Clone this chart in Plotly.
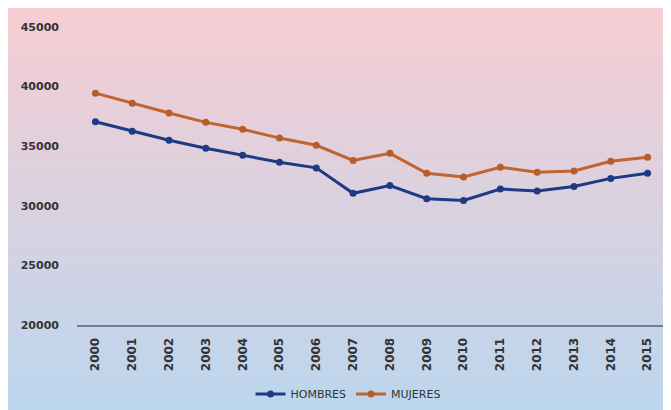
import plotly.graph_objects as go

years = [str(y) for y in range(2000, 2016)]
hombres = [37050, 36250, 35500, 34830, 34250, 33650, 33180, 31050, 31700, 30600, 30450, 31400, 31250, 31620, 32300, 32730]
mujeres = [39450, 38600, 37780, 37000, 36420, 35680, 35080, 33800, 34400, 32730, 32420, 33230, 32820, 32920, 33740, 34080]
y_ticks = [20000, 25000, 30000, 35000, 40000, 45000]
y_labels = ["20000", "25000", "30000", "35000", "40000", "45000"]

W, H = 671, 410
L, R, T, B = 69, 13, 19, 93
pw, ph = W - L - R, H - T - B

def px2paper_x(px):
    return (px - L) / pw

def px2paper_y(py):
    return (H - B - py) / ph

top_c = (246, 205, 210)
bot_c = (188, 214, 238)
shapes = []
n = 60
y_top, y_bot = 0, 402
for i in range(n):
    a = y_top + (y_bot - y_top) * i / n
    b = y_top + (y_bot - y_top) * (i + 1) / n
    t = (i + 0.5) / n
    c = tuple(round(top_c[k] + (bot_c[k] - top_c[k]) * t) for k in range(3))
    if i == n - 1:
        b = H + 5
    shapes.append(dict(type="rect", xref="paper", yref="paper",
                       x0=px2paper_x(-5), x1=px2paper_x(W + 5),
                       y0=px2paper_y(b + 2), y1=px2paper_y(a - (5 if i == 0 else 0)),
                       fillcolor="rgb(%d,%d,%d)" % c, line=dict(width=0), layer="below"))

fig = go.Figure()
fig.add_trace(go.Scatter(x=years, y=hombres, name="HOMBRES", mode="lines+markers",
                         line=dict(color="#1f3a84", width=3),
                         marker=dict(size=7, color="#1f3a84")))
fig.add_trace(go.Scatter(x=years, y=mujeres, name="MUJERES", mode="lines+markers",
                         line=dict(color="#c0652f", width=3),
                         marker=dict(size=7, color="#b55e2c")))

fig.update_layout(
    width=W, height=H,
    margin=dict(l=L, r=R, t=T, b=B, autoexpand=False),
    paper_bgcolor=f"rgb{bot_c}",
    plot_bgcolor="rgba(0,0,0,0)",
    shapes=shapes,
    font=dict(family="DejaVu Sans", color="#333333"),
    showlegend=True,
    legend=dict(orientation="h", x=px2paper_x(340), xanchor="center",
                y=px2paper_y(386), yanchor="middle",
                font=dict(size=11, color="#333333"), bgcolor="rgba(0,0,0,0)",
                itemwidth=30),
    xaxis=dict(type="category", range=[-0.5, 15.5], showgrid=False,
               showline=True, linecolor="#6f7f90", linewidth=2,
               tickangle=-90, tickfont=dict(size=12, color="#333333", weight="bold"),
               ticks="", ticklabelstandoff=6, zeroline=False, automargin=False),
    yaxis=dict(range=[20000, 45000], tickvals=y_ticks, ticktext=y_labels,
               showgrid=False, showline=False, zeroline=False, ticks="",
               tickfont=dict(size=11, color="#333333", weight="bold"),
               ticklabelstandoff=17, automargin=False),
)

fig.write_html("out.html")
